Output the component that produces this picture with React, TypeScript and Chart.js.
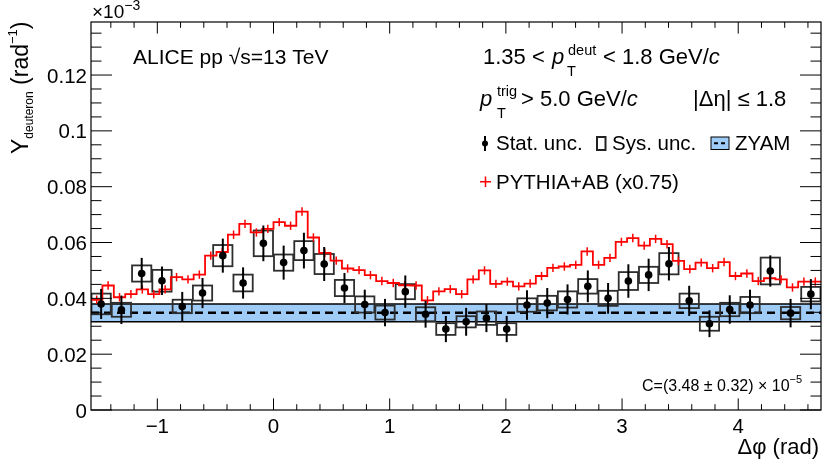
import { useEffect, useRef } from "react"
import { Chart, registerables, type Plugin } from "chart.js"

Chart.register(...registerables)

const FONT = "'Liberation Sans', Arial, Helvetica, sans-serif"

// axis ranges
const X_MIN = -Math.PI / 2
const X_MAX = (3 * Math.PI) / 2
const Y_MAX = 0.139

const xTickValues = [-1, 0, 1, 2, 3, 4]
const xTickLabels = ["−1", "0", "1", "2", "3", "4"]
const yTickValues = [0, 0.02, 0.04, 0.06, 0.08, 0.1, 0.12]
const yTickLabels = ["0", "0.02", "0.04", "0.06", "0.08", "0.1", "0.12"]

// measured deuteron yield, 36 bins in delta phi
const deuteronYield = [
  0.038, 0.0359, 0.0489, 0.0463, 0.0371, 0.0419, 0.0553, 0.0455, 0.0597, 0.0528, 0.0571, 0.0523,
  0.0437, 0.0378, 0.0349, 0.0424, 0.0343, 0.029, 0.0316, 0.0329, 0.029, 0.0376, 0.0383, 0.0396,
  0.0443, 0.04, 0.0462, 0.0484, 0.0524, 0.0391, 0.0309, 0.036, 0.0376, 0.0498, 0.0347, 0.0415,
]
const deuteronStat = [
  0.0054, 0.0051, 0.0056, 0.0051, 0.0052, 0.0054, 0.0061, 0.0056, 0.0064, 0.0061, 0.0064, 0.0061,
  0.0054, 0.0053, 0.0049, 0.0058, 0.0048, 0.0047, 0.005, 0.005, 0.0047, 0.0053, 0.0054, 0.0054,
  0.0057, 0.0055, 0.006, 0.0058, 0.006, 0.0054, 0.0048, 0.0051, 0.0055, 0.0056, 0.0051, 0.0054,
]
const deuteronSys = [
  0.0037, 0.0025, 0.0029, 0.0039, 0.0024, 0.0027, 0.0038, 0.003, 0.0046, 0.0029, 0.0034, 0.0036,
  0.0029, 0.0029, 0.0025, 0.0027, 0.0025, 0.0021, 0.002, 0.0024, 0.0021, 0.0024, 0.0026, 0.0029,
  0.0026, 0.0027, 0.0032, 0.0029, 0.0038, 0.0026, 0.0025, 0.0024, 0.0029, 0.0048, 0.0022, 0.0026,
]

// PYTHIA+AB (x0.75), 64 bins
const pythiaYield = [
  0.0395, 0.0446, 0.0404, 0.0415, 0.0432, 0.0415, 0.0432, 0.0476, 0.0468, 0.0485, 0.0553, 0.0566,
  0.0628, 0.0667, 0.0636, 0.0649, 0.0673, 0.066, 0.0711, 0.0618, 0.0563, 0.0535, 0.0507, 0.0501,
  0.0483, 0.0462, 0.0455, 0.0447, 0.0446, 0.0393, 0.0425, 0.0433, 0.0415, 0.0468, 0.05, 0.0452,
  0.046, 0.0443, 0.0453, 0.048, 0.0509, 0.0514, 0.052, 0.0568, 0.052, 0.0545, 0.0602, 0.0616,
  0.0589, 0.0613, 0.0594, 0.0534, 0.0505, 0.0528, 0.0508, 0.053, 0.048, 0.0489, 0.0462, 0.0472,
  0.0468, 0.0439, 0.046, 0.046,
]
const pythiaErr = 0.0015

// ZYAM baseline C=(3.48 ± 0.32)e-5 -> drawn as 0.0348 ± 0.0032
const zyamLevel = 0.0348
const zyamErr = 0.0032

const dataBinWidth = (X_MAX - X_MIN) / deuteronYield.length
const dataX = deuteronYield.map((_, i) => X_MIN + (i + 0.5) * dataBinWidth)
const pyBinWidth = (X_MAX - X_MIN) / pythiaYield.length
const pyX = pythiaYield.map((_, i) => X_MIN + (i + 0.5) * pyBinWidth)

const BAND_BLUE = "#9fcbf7"

function font(size: number, italic = false) {
  return `${italic ? "italic " : ""}${size}px ${FONT}`
}

// draw consecutive text pieces: [text, size, dy, italic]
function pieces(ctx: CanvasRenderingContext2D, x: number, y: number, parts: [string, number, number, boolean?][]) {
  let cx = x
  for (const [t, s, dy, it] of parts) {
    ctx.font = font(s, !!it)
    ctx.fillText(t, cx, y + dy)
    cx += ctx.measureText(t).width
  }
  return cx
}

const overlay: Plugin = {
  id: "overlay",
  beforeDatasetDraw(chart, args) {
    const label = (chart.data.datasets[args.index] as any).label
    const ctx = chart.ctx
    const xs = chart.scales.x
    const ys = chart.scales.y
    const a = chart.chartArea
    ctx.save()
    ctx.beginPath()
    ctx.rect(a.left, a.top, a.right - a.left, a.bottom - a.top)
    ctx.clip()
    if (label === "PYTHIA") {
      // systematic boxes
      ctx.strokeStyle = "#2e2e2e"
      ctx.lineWidth = 1.8
      deuteronYield.forEach((v, i) => {
        const x0 = xs.getPixelForValue(dataX[i] - dataBinWidth / 2)
        const x1 = xs.getPixelForValue(dataX[i] + dataBinWidth / 2)
        const y0 = ys.getPixelForValue(v + deuteronSys[i])
        const y1 = ys.getPixelForValue(v - deuteronSys[i])
        ctx.strokeRect(x0 + 0.5, y0, x1 - x0 - 1, y1 - y0)
      })
    }
    if (label === "data") {
      ctx.strokeStyle = "#000"
      ctx.lineWidth = 2
      deuteronYield.forEach((v, i) => {
        const px = xs.getPixelForValue(dataX[i])
        ctx.beginPath()
        ctx.moveTo(px, ys.getPixelForValue(v + deuteronStat[i]))
        ctx.lineTo(px, ys.getPixelForValue(v - deuteronStat[i]))
        ctx.stroke()
      })
    }
    ctx.restore()
  },
  afterDatasetDraw(chart, args) {
    const label = (chart.data.datasets[args.index] as any).label
    if (label !== "PYTHIA") return
    const ctx = chart.ctx
    const xs = chart.scales.x
    const ys = chart.scales.y
    ctx.save()
    ctx.strokeStyle = "#ff0000"
    ctx.lineWidth = 1.5
    pythiaYield.forEach((v, i) => {
      const px = xs.getPixelForValue(pyX[i])
      ctx.beginPath()
      ctx.moveTo(px, ys.getPixelForValue(v + pythiaErr))
      ctx.lineTo(px, ys.getPixelForValue(v - pythiaErr))
      ctx.stroke()
    })
    ctx.restore()
  },
  afterDraw(chart) {
    const ctx = chart.ctx
    const xs = chart.scales.x
    const ys = chart.scales.y
    const a = chart.chartArea
    ctx.save()
    ctx.strokeStyle = "#000"
    ctx.fillStyle = "#000"
    ctx.lineWidth = 1.2
    ctx.strokeRect(a.left, a.top, a.right - a.left, a.bottom - a.top)

    // inward ticks, y: major 0.02, minor 0.005
    ctx.lineWidth = 1
    for (let k = 0; k * 0.005 <= Y_MAX + 1e-9; k++) {
      const py = ys.getPixelForValue(k * 0.005)
      const len = k % 4 === 0 ? 21 : 10.5
      ctx.beginPath()
      ctx.moveTo(a.left, py)
      ctx.lineTo(a.left + len, py)
      ctx.moveTo(a.right, py)
      ctx.lineTo(a.right - len, py)
      ctx.stroke()
    }
    // x: major 1, minor 0.2
    for (let k = Math.ceil(X_MIN / 0.2); k * 0.2 <= X_MAX; k++) {
      const px = xs.getPixelForValue(k * 0.2)
      const len = k % 5 === 0 ? 11.6 : 5.8
      ctx.beginPath()
      ctx.moveTo(px, a.bottom)
      ctx.lineTo(px, a.bottom - len)
      ctx.moveTo(px, a.top)
      ctx.lineTo(px, a.top + len)
      ctx.stroke()
    }

    // tick labels
    ctx.font = font(20.5)
    ctx.textBaseline = "alphabetic"
    ctx.textAlign = "right"
    yTickValues.forEach((v, i) => {
      ctx.fillText(yTickLabels[i], 87, ys.getPixelForValue(v) + 7.5)
    })
    ctx.textAlign = "center"
    xTickValues.forEach((v, i) => {
      ctx.fillText(xTickLabels[i], xs.getPixelForValue(v), 433)
    })

    // axis titles
    ctx.textAlign = "right"
    ctx.font = font(22)
    ctx.fillText("Δφ (rad)", 819, 454)
    ctx.textAlign = "left"
    pieces(ctx, 92, 18, [["×10", 19, 0], ["−3", 14, -8]])

    ctx.save()
    ctx.translate(28, 154)
    ctx.rotate(-Math.PI / 2)
    pieces(ctx, 0, 0, [
      ["Y", 23, 0],
      ["deuteron", 12, 5],
      [" (rad", 23, 0],
      ["−1", 13, -11],
      [")", 23, 0],
    ])
    ctx.restore()

    // header texts
    ctx.font = font(21)
    ctx.fillText("ALICE pp √s=13 TeV", 133, 64)
    pieces(ctx, 483, 64, [["1.35 <", 22, 0]])
    pieces(ctx, 552, 64, [["p", 22, 0, true]])
    pieces(ctx, 568, 64, [["deut", 14.5, -9]])
    pieces(ctx, 567, 64, [["T", 14.5, 12]])
    pieces(ctx, 603, 64, [["< 1.8 GeV/", 22, 0], ["c", 22, 0, true]])

    pieces(ctx, 480, 106, [["p", 22, 0, true]])
    pieces(ctx, 497, 106, [["trig", 14.5, -10]])
    pieces(ctx, 497, 106, [["T", 14.5, 12]])
    pieces(ctx, 521, 106, [["> 5.0 GeV/", 22, 0], ["c", 22, 0, true]])
    pieces(ctx, 693, 106, [["|Δη| ≤ 1.8", 22, 0]])

    // legend
    ctx.font = font(20.5)
    ctx.lineWidth = 2
    ctx.beginPath()
    ctx.moveTo(485, 136)
    ctx.lineTo(485, 151)
    ctx.stroke()
    ctx.beginPath()
    ctx.arc(485, 143.5, 3, 0, Math.PI * 2)
    ctx.fill()
    ctx.fillText("Stat. unc.", 496, 149.5)

    ctx.strokeStyle = "#222"
    ctx.lineWidth = 2
    ctx.strokeRect(597, 137, 8.5, 13)
    ctx.fillText("Sys. unc.", 612, 149.5)

    ctx.fillStyle = BAND_BLUE
    ctx.fillRect(711, 137, 18, 12.5)
    ctx.strokeStyle = "#000"
    ctx.lineWidth = 1
    ctx.strokeRect(711, 137, 18, 12.5)
    ctx.lineWidth = 2
    ctx.beginPath()
    ctx.moveTo(714, 143.3)
    ctx.lineTo(718, 143.3)
    ctx.moveTo(721, 143.3)
    ctx.lineTo(725, 143.3)
    ctx.stroke()
    ctx.fillStyle = "#000"
    ctx.fillText("ZYAM", 735, 149.5)

    ctx.strokeStyle = "#ff0000"
    ctx.lineWidth = 1.5
    ctx.beginPath()
    ctx.moveTo(480, 181.7)
    ctx.lineTo(491, 181.7)
    ctx.moveTo(485.5, 176.5)
    ctx.lineTo(485.5, 187)
    ctx.stroke()
    ctx.fillText("PYTHIA+AB (x0.75)", 496, 188.5)

    // ZYAM constant
    pieces(ctx, 642, 391, [["C=(3.48 ± 0.32) × 10", 16, 0], ["−5", 11, -8]])
    ctx.restore()
  },
}

export default function App() {
  const canvasRef = useRef<HTMLCanvasElement>(null)
  const chartRef = useRef<Chart | null>(null)

  useEffect(() => {
    if (!canvasRef.current) return
    if (chartRef.current) chartRef.current.destroy()

    const pythiaPoints = [
      { x: X_MIN, y: pythiaYield[0] },
      ...pythiaYield.map((v, i) => ({ x: pyX[i], y: v })),
      { x: X_MAX, y: pythiaYield[pythiaYield.length - 1] },
    ]

    chartRef.current = new Chart(canvasRef.current, {
      type: "line",
      data: {
        datasets: [
          {
            label: "data",
            data: deuteronYield.map((v, i) => ({ x: dataX[i], y: v })),
            showLine: false,
            pointRadius: 3.8,
            pointBackgroundColor: "#000",
            pointBorderWidth: 0,
            order: 0,
          },
          {
            label: "PYTHIA",
            data: pythiaPoints,
            stepped: "middle",
            borderColor: "#ff0000",
            borderWidth: 1.8,
            pointRadius: 0,
            fill: false,
            order: 1,
          },
          {
            label: "zyamMid",
            data: [
              { x: X_MIN, y: zyamLevel },
              { x: X_MAX, y: zyamLevel },
            ],
            borderColor: "#000",
            borderWidth: 2.5,
            borderDash: [8, 5],
            pointRadius: 0,
            fill: false,
            order: 2,
          },
          {
            label: "zyamHi",
            data: [
              { x: X_MIN, y: zyamLevel + zyamErr },
              { x: X_MAX, y: zyamLevel + zyamErr },
            ],
            borderColor: "#000",
            borderWidth: 1.5,
            backgroundColor: BAND_BLUE,
            fill: { value: zyamLevel - zyamErr },
            pointRadius: 0,
            order: 4,
          },
          {
            label: "zyamLo",
            data: [
              { x: X_MIN, y: zyamLevel - zyamErr },
              { x: X_MAX, y: zyamLevel - zyamErr },
            ],
            borderColor: "#000",
            borderWidth: 1.5,
            pointRadius: 0,
            fill: false,
            order: 3,
          },
        ],
      },
      options: {
        responsive: false,
        animation: false,
        events: [],
        layout: { padding: { left: 91, right: 9, top: 22, bottom: 57 } },
        scales: {
          x: { type: "linear", min: X_MIN, max: X_MAX, display: false },
          y: { type: "linear", min: 0, max: Y_MAX, display: false },
        },
        plugins: {
          legend: { display: false },
          tooltip: { enabled: false },
        },
      },
      plugins: [overlay],
    })

    return () => {
      if (chartRef.current) {
        chartRef.current.destroy()
        chartRef.current = null
      }
    }
  }, [])

  return (
    <div style={{ position: "absolute", left: 0, top: 0, width: 830, height: 467, background: "#fff" }}>
      <canvas ref={canvasRef} width={830} height={467} style={{ width: 830, height: 467 }}></canvas>
    </div>
  )
}
